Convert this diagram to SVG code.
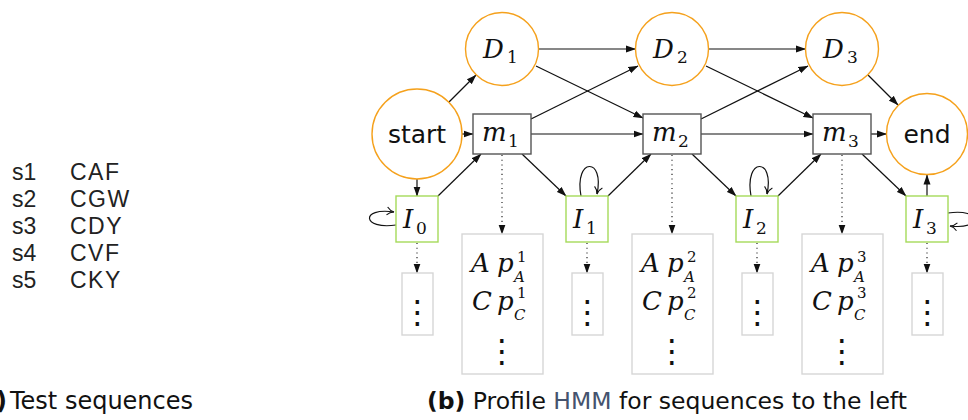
<svg xmlns="http://www.w3.org/2000/svg" width="968" height="420" viewBox="0 0 968 420">
<defs>
<style>
.circ{fill:#fff;stroke:#f5a11c;stroke-width:1.4}
.mbox{fill:#fff;stroke:#555;stroke-width:1.4}
.ibox{fill:#fff;stroke:#a5da5a;stroke-width:1.4}
.ebox{fill:#fff;stroke:#d6d6d6;stroke-width:1.4}
.edge{fill:none;stroke:#111;stroke-width:1.2;marker-end:url(#ah)}
.dot{fill:none;stroke:#111;stroke-width:1.1;stroke-dasharray:1.1 3.6;marker-end:url(#ah)}
.loop{fill:none;stroke:#111;stroke-width:1.2;marker-end:url(#oh)}
.sans{font-family:"DejaVu Sans","Liberation Sans",sans-serif;fill:#111}
.math{font-family:"DejaVu Serif","Liberation Serif",serif;font-style:italic;fill:#111;font-size:26px}
.sub{font-family:"DejaVu Serif","Liberation Serif",serif;fill:#111;font-size:17px}
.sup{font-family:"DejaVu Serif","Liberation Serif",serif;fill:#111;font-size:15px}
.subi{font-family:"DejaVu Serif","Liberation Serif",serif;font-style:italic;fill:#111;font-size:15px}
.vd{font-family:"DejaVu Sans",sans-serif;fill:#111;font-size:32px}
.seq{font-family:"Liberation Sans",sans-serif;fill:#222;font-size:23px}
</style>
<marker id="ah" markerUnits="userSpaceOnUse" markerWidth="10" markerHeight="8" refX="9.5" refY="4" orient="auto">
<path d="M0,0.5 L10,4 L0,7.5 z" fill="#111"/>
</marker>
<marker id="oh" markerUnits="userSpaceOnUse" markerWidth="10" markerHeight="10" refX="8" refY="5" orient="auto">
<path d="M1,1 Q4,4.5 8,5 Q4,5.5 1,9" fill="none" stroke="#111" stroke-width="1.1"/>
</marker>
</defs>
<rect width="968" height="420" fill="#fff"/>

<g id="sequences">
<text class="seq" x="12" y="180">s1</text><text class="seq" x="70" y="180" letter-spacing="1.5">CAF</text>
<text class="seq" x="12" y="207">s2</text><text class="seq" x="70" y="207" letter-spacing="1.5">CGW</text>
<text class="seq" x="12" y="234">s3</text><text class="seq" x="70" y="234" letter-spacing="1.5">CDY</text>
<text class="seq" x="12" y="261">s4</text><text class="seq" x="70" y="261" letter-spacing="1.5">CVF</text>
<text class="seq" x="12" y="288">s5</text><text class="seq" x="70" y="288" letter-spacing="1.5">CKY</text>
</g>

<g id="connectors">
<line class="edge" x1="449" y1="102" x2="476" y2="75"/>
<line class="edge" x1="462" y1="134" x2="473" y2="134"/>
<line class="edge" x1="417" y1="179" x2="417" y2="196"/>
<line class="edge" x1="538.5" y1="49" x2="635.5" y2="49"/>
<line class="edge" x1="708.5" y1="49" x2="805.5" y2="49"/>
<line class="edge" x1="536" y1="66" x2="643" y2="118"/>
<line class="edge" x1="706" y1="66" x2="813" y2="118"/>
<line class="edge" x1="531" y1="119" x2="638" y2="66"/>
<line class="edge" x1="701" y1="119" x2="808" y2="66"/>
<line class="edge" x1="531" y1="134" x2="643" y2="134"/>
<line class="edge" x1="701" y1="134" x2="813" y2="134"/>
<line class="edge" x1="871" y1="134" x2="886.5" y2="134"/>
<line class="edge" x1="868" y1="75" x2="898" y2="105"/>
<line class="edge" x1="522" y1="154" x2="566" y2="196"/>
<line class="edge" x1="692" y1="154" x2="736" y2="196"/>
<line class="edge" x1="862" y1="154" x2="906" y2="196"/>
<line class="edge" x1="438" y1="196" x2="481" y2="154"/>
<line class="edge" x1="608" y1="196" x2="651" y2="154"/>
<line class="edge" x1="778" y1="196" x2="821" y2="154"/>
<line class="edge" x1="927" y1="196" x2="927" y2="175"/>
<path class="loop" d="M396,225 C362,230 360,207 394,212"/>
<path class="loop" d="M581,196 C574,157 605,157 597,194"/>
<path class="loop" d="M751,196 C744,157 775,157 767,194"/>
<path class="loop" d="M948,213 C982,208 984,230 950,226"/>
<line class="dot" x1="502" y1="155" x2="502" y2="234"/>
<line class="dot" x1="672" y1="155" x2="672" y2="234"/>
<line class="dot" x1="842" y1="155" x2="842" y2="234"/>
<line class="dot" x1="417" y1="243" x2="417" y2="273"/>
<line class="dot" x1="587" y1="243" x2="587" y2="273"/>
<line class="dot" x1="757" y1="243" x2="757" y2="273"/>
<line class="dot" x1="927" y1="243" x2="927" y2="273"/>
</g>

<g id="start"><circle class="circ" cx="417" cy="134" r="45"/><text class="sans" x="417" y="143" font-size="25" text-anchor="middle">start</text></g>
<g id="end"><circle class="circ" cx="927" cy="134" r="40.5"/><text class="sans" x="927" y="143" font-size="25" text-anchor="middle">end</text></g>

<g id="D1"><circle class="circ" cx="502" cy="49" r="36.5"/><text class="math" x="483" y="58">D</text><text class="sub" x="507" y="63">1</text></g>
<g id="D2"><circle class="circ" cx="672" cy="49" r="36.5"/><text class="math" x="653" y="58">D</text><text class="sub" x="677" y="63">2</text></g>
<g id="D3"><circle class="circ" cx="842" cy="49" r="36.5"/><text class="math" x="823" y="58">D</text><text class="sub" x="847" y="63">3</text></g>

<g id="m1"><rect class="mbox" x="473" y="114" width="58" height="40"/><text class="math" x="482" y="141">m</text><text class="sub" x="508" y="147">1</text></g>
<g id="m2"><rect class="mbox" x="643" y="114" width="58" height="40"/><text class="math" x="652" y="141">m</text><text class="sub" x="678" y="147">2</text></g>
<g id="m3"><rect class="mbox" x="813" y="114" width="58" height="40"/><text class="math" x="822" y="141">m</text><text class="sub" x="848" y="147">3</text></g>

<g id="I0"><rect class="ibox" x="396" y="196" width="42" height="46"/><text class="math" x="403" y="228">I</text><text class="sub" x="416" y="234">0</text></g>
<g id="I1"><rect class="ibox" x="566" y="196" width="42" height="46"/><text class="math" x="573" y="228">I</text><text class="sub" x="586" y="234">1</text></g>
<g id="I2"><rect class="ibox" x="736" y="196" width="42" height="46"/><text class="math" x="743" y="228">I</text><text class="sub" x="756" y="234">2</text></g>
<g id="I3"><rect class="ibox" x="906" y="196" width="42" height="46"/><text class="math" x="913" y="228">I</text><text class="sub" x="926" y="234">3</text></g>

<g id="e1"><rect class="ebox" x="462" y="234" width="81" height="140"/>
<text class="math" x="471" y="272">A</text><text class="math" x="497" y="272">p</text><text class="sup" x="517" y="262">1</text><text class="subi" x="514" y="282">A</text>
<text class="math" x="472" y="310">C</text><text class="math" x="497" y="310">p</text><text class="sup" x="517" y="298">1</text><text class="subi" x="514" y="320">C</text>
<text class="vd" x="502" y="362" text-anchor="middle">⋮</text></g>
<g id="e2"><rect class="ebox" x="632" y="234" width="81" height="140"/>
<text class="math" x="641" y="272">A</text><text class="math" x="667" y="272">p</text><text class="sup" x="687" y="262">2</text><text class="subi" x="684" y="282">A</text>
<text class="math" x="642" y="310">C</text><text class="math" x="667" y="310">p</text><text class="sup" x="687" y="298">2</text><text class="subi" x="684" y="320">C</text>
<text class="vd" x="672" y="362" text-anchor="middle">⋮</text></g>
<g id="e3"><rect class="ebox" x="802" y="234" width="81" height="140"/>
<text class="math" x="811" y="272">A</text><text class="math" x="837" y="272">p</text><text class="sup" x="857" y="262">3</text><text class="subi" x="854" y="282">A</text>
<text class="math" x="812" y="310">C</text><text class="math" x="837" y="310">p</text><text class="sup" x="857" y="298">3</text><text class="subi" x="854" y="320">C</text>
<text class="vd" x="842" y="362" text-anchor="middle">⋮</text></g>

<g id="x0"><rect class="ebox" x="402" y="273" width="31" height="62"/><text class="vd" x="417.5" y="323" text-anchor="middle">⋮</text></g>
<g id="x1"><rect class="ebox" x="572" y="273" width="31" height="62"/><text class="vd" x="587.5" y="323" text-anchor="middle">⋮</text></g>
<g id="x2"><rect class="ebox" x="742" y="273" width="31" height="62"/><text class="vd" x="757.5" y="323" text-anchor="middle">⋮</text></g>
<g id="x3"><rect class="ebox" x="912" y="273" width="31" height="62"/><text class="vd" x="927.5" y="323" text-anchor="middle">⋮</text></g>

<g id="captions">
<text class="sans" x="7" y="409" font-size="24" font-weight="bold" text-anchor="end">(a)</text>
<text class="sans" x="10" y="409" font-size="24">Test sequences</text>
<text class="sans" x="427" y="409" font-size="23.5"><tspan font-weight="bold">(b)</tspan> Profile <tspan fill="#45536e">HMM</tspan> for sequences to the left</text>
</g>
</svg>
